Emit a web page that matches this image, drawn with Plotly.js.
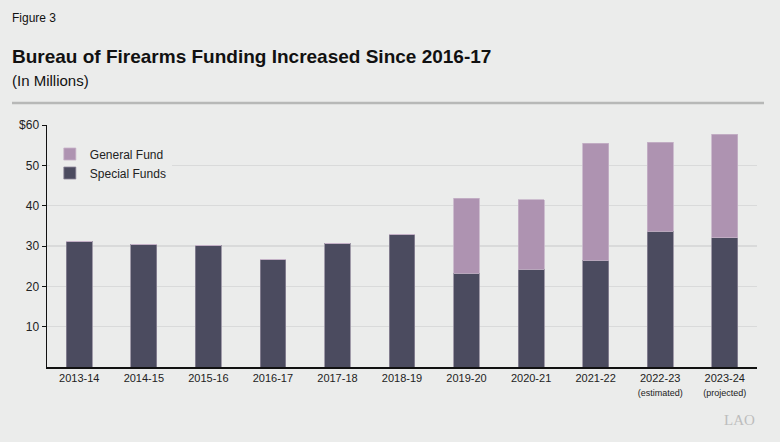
<!DOCTYPE html>
<html>
<head>
<meta charset="utf-8">
<script src="https://cdn.plot.ly/plotly-3.0.1.min.js"></script>
<style>
  html, body { margin: 0; padding: 0; background: #ebeceb; }
  #chart { width: 780px; height: 442px; }
</style>
</head>
<body>
<div id="chart"></div>
<script>
// Data (in millions of dollars)
const categories = ["2013-14", "2014-15", "2015-16", "2016-17", "2017-18", "2018-19",
                    "2019-20", "2020-21", "2021-22", "2022-23", "2023-24"];
const tickLabels = ["2013-14", "2014-15", "2015-16", "2016-17", "2017-18", "2018-19",
                    "2019-20", "2020-21", "2021-22",
                    "2022-23<br><span style='font-size:9px'>(estimated)</span>",
                    "2023-24<br><span style='font-size:9px'>(projected)</span>"];
const specialFunds = [31.2, 30.4, 30.2, 26.6, 30.7, 32.9, 23.2, 24.2, 26.5, 33.6, 32.0];
const generalFund  = [0, 0, 0, 0, 0, 0, 18.7, 17.3, 29.0, 22.1, 25.7];
const yTickVals = [10, 20, 30, 40, 50, 60];
const yTickText = ["10", "20", "30", "40", "50", "$60"];

const FONT = "Liberation Sans, Arial, Helvetica, sans-serif";

const traces = [
  {
    type: "bar", name: "Special Funds", x: categories, y: specialFunds,
    marker: { color: "#4b4b5f", line: { color: "#8d8799", width: 0.8 } },
    hoverinfo: "x+y+name"
  },
  {
    type: "bar", name: "General Fund", x: categories, y: generalFund,
    marker: { color: "#ae93b1", line: { color: "#c6b3c8", width: 0.8 } },
    hoverinfo: "x+y+name"
  }
];

const layout = {
  width: 780, height: 442,
  margin: { l: 47, r: 23, t: 125, b: 75, pad: 0 },
  paper_bgcolor: "#ebeceb",
  plot_bgcolor: "#ebeceb",
  font: { family: FONT, size: 11, color: "#222" },
  barmode: "stack",
  bargap: 0.6,
  title: {
    text: "<b>Bureau of Firearms Funding Increased Since 2016-17</b>",
    font: { family: FONT, size: 19, color: "#111" },
    xref: "container", x: 12 / 780, xanchor: "left",
    yref: "container", y: 1 - 56 / 442, yanchor: "middle"
  },
  xaxis: {
    type: "category",
    tickvals: categories, ticktext: tickLabels,
    showline: true, linecolor: "#111", linewidth: 1.5,
    ticks: "", showgrid: false, zeroline: false,
    tickfont: { family: FONT, size: 11, color: "#222" },
    fixedrange: true
  },
  yaxis: {
    range: [0, 60],
    tickvals: yTickVals, ticktext: yTickText,
    showline: true, linecolor: "#111", linewidth: 1.5,
    ticks: "outside", ticklen: 4, tickcolor: "#111", tickwidth: 1,
    showgrid: true, gridcolor: "#d9dada", gridwidth: 1.2,
    zeroline: false,
    tickfont: { family: FONT, size: 12, color: "#222" },
    fixedrange: true
  },
  showlegend: true,
  legend: {
    traceorder: "reversed",
    x: 0.004, xanchor: "left",
    y: 0.94, yanchor: "top",
    bgcolor: "#ebeceb",
    font: { family: FONT, size: 12, color: "#222" },
    itemclick: false, itemdoubleclick: false
  },
  annotations: [
    {
      text: "Figure 3", xref: "paper", yref: "paper",
      x: (10 - 47) / 710, y: (367 - 18) / 242,
      xanchor: "left", yanchor: "middle", showarrow: false,
      font: { family: FONT, size: 12, color: "#111" }
    },
    {
      text: "(In Millions)", xref: "paper", yref: "paper",
      x: (10 - 47) / 710, y: (367 - 80) / 242,
      xanchor: "left", yanchor: "middle", showarrow: false,
      font: { family: FONT, size: 15, color: "#111" }
    },
    {
      text: "LAO", xref: "paper", yref: "paper",
      x: 1.0, y: (367 - 420) / 242,
      xanchor: "right", yanchor: "middle", showarrow: false,
      font: { family: "Liberation Serif, Times New Roman, serif", size: 15, color: "#bdbdbd" }
    }
  ],
  shapes: [
    {
      type: "line", xref: "paper", yref: "paper",
      x0: (12 - 47) / 710, x1: (764 - 47) / 710,
      y0: (367 - 103) / 242, y1: (367 - 103) / 242,
      line: { color: "#b7b8b7", width: 2.5 }
    }
  ]
};

Plotly.newPlot("chart", traces, layout, { displayModeBar: false, staticPlot: true });
</script>
</body>
</html>
